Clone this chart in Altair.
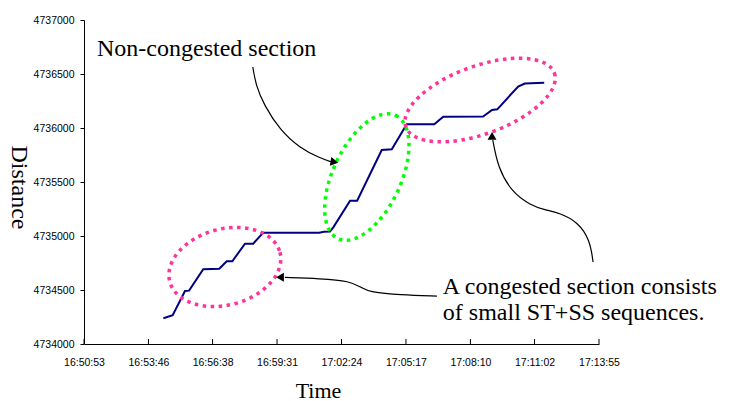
import altair as alt
import pandas as pd

# ---- data ----
times = ["16:54:26", "16:54:51", "16:55:24", "16:55:35", "16:56:13", "16:56:56",
         "16:57:16", "16:57:31", "16:58:05", "16:58:27", "16:58:54", "17:01:24",
         "17:01:37", "17:01:53", "17:02:02", "17:02:47", "17:03:06", "17:04:12",
         "17:04:39", "17:05:19", "17:06:33", "17:06:57", "17:08:44", "17:09:08",
         "17:09:22", "17:10:18", "17:10:36", "17:11:28"]
distance = [4734238, 4734266, 4734491, 4734494, 4734692, 4734697, 4734766, 4734766,
            4734929, 4734929, 4735031, 4735031, 4735040, 4735042, 4735080, 4735327,
            4735327, 4735796, 4735803, 4736034, 4736034, 4736105, 4736106, 4736167,
            4736173, 4736384, 4736412, 4736419]

tick_labels = ["16:50:53", "16:53:46", "16:56:38", "16:59:31", "17:02:24",
               "17:05:17", "17:08:10", "17:11:02", "17:13:55"]
y_ticks = [4734000, 4734500, 4735000, 4735500, 4736000, 4736500, 4737000]

# ellipses (centre in data coordinates)
ell_time = ["16:57:11", "17:03:32", "17:08:36"]
ell_dist = [4734713, 4735546, 4736259]
ell_color = ["#FF3399", "#00FF00", "#FF3399"]

# annotation arrows (curve points in data coordinates)
arrow1_time = ["16:58:26", "16:58:34", "16:58:56", "16:59:39", "17:00:32", "17:01:26", "17:01:58"]
arrow1_dist = [4736565, 4736398, 4736213, 4735981, 4735815, 4735722, 4735685]
arrow2_time = ["17:06:40", "17:05:01", "17:03:40", "17:03:19", "17:02:47", "17:01:26", "16:59:52"]
arrow2_dist = [4734444, 4734454, 4734481, 4734519, 4734583, 4734606, 4734616]
arrow3_time = ["17:13:39", "17:13:31", "17:12:58", "17:12:10", "17:11:30", "17:10:50",
               "17:10:01", "17:09:24", "17:09:10"]
arrow3_dist = [4734759, 4734963, 4735130, 4735213, 4735241, 4735287, 4735407, 4735630, 4735889]
head_time = ["17:02:05", "16:59:39", "17:09:08"]
head_dist = [4735685, 4734618, 4735926]
head_shape = ["triangle-right", "triangle-left", "triangle-up"]
head_angle = [10, 0, 0]

text_time = ["16:51:28", "17:06:56", "17:06:56"]
text_dist = [4736667, 4734463, 4734222]
text_label = ["Non-congested section", "A congested section consists",
              "of small ST+SS sequences."]

SERIF = "Times New Roman, Liberation Serif, serif"
SANS = "Arial, Liberation Sans, sans-serif"


def secs(t):
    h, m, s = map(int, t.split(":"))
    return h * 3600 + m * 60 + s


tick_secs = [secs(t) for t in tick_labels]
x_scale = alt.Scale(domain=[tick_secs[0], tick_secs[-1]], nice=False, zero=False)
y_scale = alt.Scale(domain=[y_ticks[0], y_ticks[-1]], nice=False, zero=False)

x_axis = alt.Axis(values=tick_secs,
                  labelExpr="timeFormat(datetime(2000,0,1,0,0,datum.value),'%H:%M:%S')",
                  ticks=False, grid=False, domainColor="black", domainWidth=1,
                  labelFont=SANS, labelFontSize=10.5, labelColor="black",
                  labelPadding=13, labelFlush=False, labelOverlap=False,
                  title="Time", titleFont=SERIF, titleFontSize=22,
                  titleFontWeight="normal", titleColor="black",
                  titleX=234, titleY=53, titleAlign="center",
                  titleBaseline="alphabetic")
y_axis = alt.Axis(values=y_ticks, format="d", grid=False,
                  domainColor="black", domainWidth=1,
                  tickColor="black", tickSize=4, tickWidth=1,
                  labelFont=SANS, labelFontSize=10.5, labelColor="black",
                  labelPadding=6, labelFlush=False, labelOverlap=False,
                  title="Distance", titleFont=SERIF, titleFontSize=24,
                  titleFontWeight="normal", titleColor="black", titleAngle=90,
                  titleX=-66, titleY=167, titleAlign="center",
                  titleBaseline="middle")


def X(field="t"):
    return alt.X(f"{field}:Q", scale=x_scale, axis=x_axis)


def Y(field="d"):
    return alt.Y(f"{field}:Q", scale=y_scale, axis=y_axis)


line_df = pd.DataFrame({"t": [secs(t) for t in times], "d": distance})

line = alt.Chart(line_df).mark_line(color="#000080", strokeWidth=2).encode(x=X(), y=Y())

# inward x ticks
xticks = alt.Chart(pd.DataFrame({"t": tick_secs})).mark_rule(
    color="black", strokeWidth=1).encode(x=X(), y=alt.value(324), y2=alt.value(319))


def ellipse_path(r):
    k = 0.5523
    kr = k * r
    return (f"M 1 0 C 1 {kr:.4f} {k} {r:.4f} 0 {r:.4f} "
            f"C {-k} {r:.4f} -1 {kr:.4f} -1 0 "
            f"C -1 {-kr:.4f} {-k} {-r:.4f} 0 {-r:.4f} "
            f"C {k} {-r:.4f} 1 {-kr:.4f} 1 0 Z")


ell_style = [  # (axis ratio, size, angle)
    (0.667, 12996, 345),
    (0.5, 18496, 295),
    (0.43, 24964, 340),
]
ellipses = []
for i in range(3):
    r, size, ang = ell_style[i]
    df = pd.DataFrame({"t": [secs(ell_time[i])], "d": [ell_dist[i]]})
    ellipses.append(
        alt.Chart(df).mark_point(shape=ellipse_path(r), size=size, angle=ang,
                                 filled=False, stroke=ell_color[i], strokeWidth=3.5,
                                 strokeDash=[3.5, 4.5], opacity=1)
        .encode(x=X(), y=Y())
    )

rows = []
for name, ts, ds in [("a1", arrow1_time, arrow1_dist),
                     ("a2", arrow2_time, arrow2_dist),
                     ("a3", arrow3_time, arrow3_dist)]:
    for i, (t, d) in enumerate(zip(ts, ds)):
        rows.append({"arrow": name, "i": i, "t": secs(t), "d": d})
arrow_df = pd.DataFrame(rows)

arrows = alt.Chart(arrow_df).mark_line(color="black", strokeWidth=1.2,
                                       interpolate="basis").encode(
    x=X(), y=Y(), detail="arrow:N", order="i:Q")

head_df = pd.DataFrame({"t": [secs(t) for t in head_time], "d": head_dist,
                        "shape": head_shape, "angle": head_angle})
heads = alt.Chart(head_df).mark_point(filled=True, color="black", opacity=1, size=80).encode(
    x=X(), y=Y(),
    shape=alt.Shape("shape:N", scale=None),
    angle=alt.Angle("angle:Q", scale=None))

text_df = pd.DataFrame({"t": [secs(t) for t in text_time], "d": text_dist,
                        "label": text_label})
texts = alt.Chart(text_df).mark_text(font=SERIF, fontSize=24, align="left",
                                     baseline="alphabetic", color="black").encode(
    x=X(), y=Y(), text="label:N")

chart = alt.layer(line, xticks, *ellipses, arrows, heads, texts).properties(
    width=515, height=324,
    autosize=alt.AutoSizeParams(type="none"),
    padding={"left": 76, "top": 12, "right": 118, "bottom": 57},
).configure_view(strokeWidth=0)

chart.save("out.html", embed_options={"renderer": "svg", "actions": False})
